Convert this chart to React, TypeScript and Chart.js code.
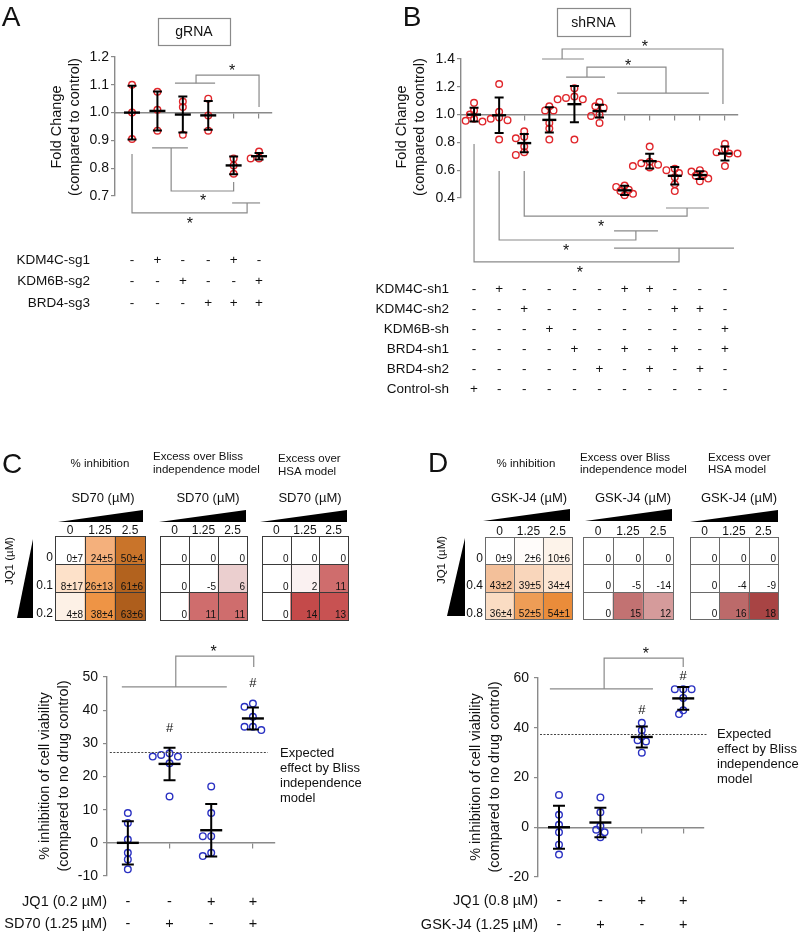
import React, { useEffect, useRef } from "react";
import { Chart, registerables } from "chart.js";
Chart.register(...registerables);

const PAGE_W = 805;
const PAGE_H = 935;
const FONT = "'Liberation Sans', Arial, Helvetica, sans-serif";
const AXIS_GRAY = "#8a8a8a";
const TEXT = "#111111";
const RED = "#e0262b";
const BLUE = "#2a31c2";
Chart.defaults.font.family = FONT;

// ---------------- Panel A (gRNA) ----------------
const A_VALUES = [
  [1.1, 1.0, 0.905],
  [1.075, 1.01, 0.935],
  [1.04, 1.02, 0.92],
  [1.05, 0.99, 0.935],
  [0.835, 0.81, 0.78],
  [0.86, 0.835, 0.835],
];
const A_MEANS = [1.0, 1.006, 0.993, 0.99, 0.81, 0.843];
const A_SDS = [0.097, 0.07, 0.065, 0.052, 0.032, 0.012];
const A_TABLE_LABELS = ["KDM4C-sg1", "KDM6B-sg2", "BRD4-sg3"];
const A_TABLE_ROWS = [
  ["-", "+", "-", "-", "+", "-"],
  ["-", "-", "+", "-", "-", "+"],
  ["-", "-", "-", "+", "+", "+"],
];
const A_BRACKETS = [
  [[2.69, 1.106], [4.27, 1.106]],
  [[3.52, 1.106], [3.52, 1.135], [6.0, 1.135], [6.0, 1.02]],
  [[1.79, 0.873], [3.2, 0.873]],
  [[2.54, 0.873], [2.54, 0.718], [5.0, 0.718], [5.0, 0.75]],
  [[1.0, 0.851], [1.0, 0.639], [5.53, 0.639], [5.53, 0.675]],
  [[4.94, 0.675], [6.04, 0.675]],
];
const A_STARS = [[4.94, 1.164], [3.8, 0.696], [3.28, 0.614]];

// ---------------- Panel B (shRNA) ----------------
const B_VALUES = [
  [1.085, 1.03, 1.0, 0.97, 0.95, 0.955],
  [1.22, 1.02, 0.98, 0.97, 0.96, 0.82],
  [0.88, 0.84, 0.83, 0.77, 0.73, 0.71],
  [1.06, 1.03, 1.03, 0.94, 0.9, 0.82],
  [1.19, 1.13, 1.12, 1.11, 1.11, 0.82],
  [1.09, 1.06, 1.05, 1.0, 0.99, 0.94],
  [0.49, 0.48, 0.46, 0.45, 0.43, 0.42],
  [0.77, 0.66, 0.65, 0.64, 0.63, 0.62],
  [0.61, 0.6, 0.58, 0.55, 0.5, 0.45],
  [0.6, 0.59, 0.57, 0.56, 0.54, 0.52],
  [0.79, 0.75, 0.73, 0.72, 0.72, 0.63],
];
const B_MEANS = [1.0, 0.995, 0.795, 0.962, 1.075, 1.025, 0.455, 0.665, 0.56, 0.565, 0.72];
const B_SDS = [0.05, 0.128, 0.065, 0.09, 0.13, 0.045, 0.033, 0.053, 0.063, 0.028, 0.05];
const B_TABLE_LABELS = ["KDM4C-sh1", "KDM4C-sh2", "KDM6B-sh", "BRD4-sh1", "BRD4-sh2", "Control-sh"];
const B_TABLE_ROWS = [
  ["-", "+", "-", "-", "-", "-", "+", "+", "-", "-", "-"],
  ["-", "-", "+", "-", "-", "-", "-", "-", "+", "+", "-"],
  ["-", "-", "-", "+", "-", "-", "-", "-", "-", "-", "+"],
  ["-", "-", "-", "-", "+", "-", "+", "-", "+", "-", "+"],
  ["-", "-", "-", "-", "-", "+", "-", "+", "-", "+", "-"],
  ["+", "-", "-", "-", "-", "-", "-", "-", "-", "-", "-"],
];
const B_BRACKETS = [
  [[3.71, 1.4], [5.38, 1.4]],
  [[4.51, 1.4], [4.51, 1.472], [10.92, 1.472], [10.92, 1.076]],
  [[4.67, 1.27], [6.22, 1.27]],
  [[5.5, 1.27], [5.5, 1.342], [8.65, 1.342], [8.65, 1.155]],
  [[6.7, 1.155], [10.36, 1.155]],
  [[3.0, 0.594], [3.0, 0.27], [9.49, 0.27], [9.49, 0.328]],
  [[8.65, 0.328], [10.36, 0.328]],
  [[2.0, 0.594], [2.0, 0.098], [7.45, 0.098], [7.45, 0.163]],
  [[6.58, 0.163], [8.33, 0.163]],
  [[1.0, 0.788], [1.0, -0.06], [9.17, -0.06], [9.17, 0.04]],
  [[6.58, 0.04], [11.36, 0.04]],
];
const B_STARS = [[7.81, 1.515], [7.14, 1.378], [6.06, 0.22], [4.67, 0.047], [5.22, -0.111]];

// ---------------- Panel C ----------------
const C_DOSE_LABELS = ["0", "1.25", "2.5"];
const C_JQ1_DOSES = ["0", "0.1", "0.2"];
const C_INHIBITION = [
  [0, 24, 50],
  [8, 26, 61],
  [4, 38, 63],
];
const C_INHIBITION_SD = [
  [7, 5, 4],
  [17, 13, 6],
  [8, 4, 6],
];
const C_BLISS = [
  [0, 0, 0],
  [0, -5, 6],
  [0, 11, 11],
];
const C_HSA = [
  [0, 0, 0],
  [0, 2, 11],
  [0, 14, 13],
];
const C_VALUES = [
  [9, 6, 1, -3, -5, -8],
  [27, 26.5, 26, 26, 24, 14],
  [17, 9, 2, 2, -3, -4],
  [42, 41, 38, 35, 35, 34],
];
const C_MEANS = [0, 23.8, 3.8, 37.5];
const C_SDS = [6.5, 4.9, 7.9, 3.3];
const C_EXPECTED = 27.4;
const C_TABLE_LABELS = ["JQ1 (0.2 µM)", "SD70 (1.25 µM)"];
const C_TABLE_ROWS = [
  ["-", "-", "+", "+"],
  ["-", "+", "-", "+"],
];
const C_BRACKETS = [
  [[0.856, 47], [3.374, 47]],
  [[2.15, 47], [2.15, 56.3], [4.02, 56.3], [4.02, 53.0]],
];
const C_STARS = [[3.06, 58.7]];
const C_HASHES = [[2, 34.9], [4, 48.5]];

// ---------------- Panel D ----------------
const D_DOSE_LABELS = ["0", "1.25", "2.5"];
const D_JQ1_DOSES = ["0", "0.4", "0.8"];
const D_INHIBITION = [
  [0, 2, 10],
  [43, 39, 34],
  [36, 52, 54],
];
const D_INHIBITION_SD = [
  [9, 6, 6],
  [2, 5, 4],
  [4, 5, 1],
];
const D_BLISS = [
  [0, 0, 0],
  [0, -5, -14],
  [0, 15, 12],
];
const D_HSA = [
  [0, 0, 0],
  [0, -4, -9],
  [0, 16, 18],
];
const D_VALUES = [
  [13, 5, 1, -2, -7, -11],
  [12, 6, 0.5, -1, -2, -4],
  [42, 39, 36.5, 35, 34.5, 30],
  [55.5, 55.5, 55.5, 52, 47, 45.5],
];
const D_MEANS = [0, 1.9, 36.3, 51.8];
const D_SDS = [8.6, 5.9, 4.2, 4.6];
const D_EXPECTED = 37.6;
const D_TABLE_LABELS = ["JQ1 (0.8 µM)", "GSK-J4 (1.25 µM)"];
const D_TABLE_ROWS = [
  ["-", "-", "+", "+"],
  ["-", "+", "-", "+"],
];
const D_BRACKETS = [
  [[0.78, 55.6], [3.27, 55.6]],
  [[2.09, 55.6], [2.09, 68.0], [4.0, 68.0], [4.0, 64.4]],
];
const D_STARS = [[3.1, 71.3]];
const D_HASHES = [[3, 47.5], [4, 61.2]];
const EXPECTED_LINES = ["Expected", "effect by Bliss", "independence", "model"];

// ---------------- colour scales (style) ----------------
const C_INH_STOPS = [[0, "#ffffff"], [4, "#fdf1e6"], [8, "#fde1c9"], [24, "#f4b07c"], [26, "#f2a462"], [38, "#ee9445"], [50, "#c9742a"], [61, "#b2621e"], [63, "#ae5e1c"]];
const D_INH_STOPS = [[0, "#ffffff"], [2, "#fffcfa"], [10, "#fdf3ea"], [34, "#fce6d4"], [36, "#fadcc3"], [39, "#f9d6bb"], [43, "#f3c09a"], [52, "#ee9d56"], [54, "#ea8c3a"]];
const C_EXC_STOPS = [[0, "#ffffff"], [2, "#faf1f1"], [6, "#ebcfcf"], [11, "#cf6d6d"], [13, "#c85252"], [14, "#c44a4a"]];
const D_EXC_STOPS = [[0, "#ffffff"], [12, "#d59b9b"], [15, "#c27272"], [16, "#bc6a6a"], [18, "#a84444"]];

function hexToRgb(h: string) {
  const n = parseInt(h.slice(1), 16);
  return [(n >> 16) & 255, (n >> 8) & 255, n & 255];
}
function colorFor(v: number, stops: any[]) {
  if (v <= stops[0][0]) return stops[0][1];
  for (let i = 1; i < stops.length; i++) {
    if (v <= stops[i][0]) {
      const t = (v - stops[i - 1][0]) / (stops[i][0] - stops[i - 1][0]);
      const a = hexToRgb(stops[i - 1][1]);
      const b = hexToRgb(stops[i][1]);
      const c = a.map((x, k) => Math.round(x + (b[k] - x) * t));
      return `rgb(${c[0]},${c[1]},${c[2]})`;
    }
  }
  return stops[stops.length - 1][1];
}

// ---------------- drawing helpers ----------------
function drawText(ctx: any, text: string, x: number, y: number, size: number, opts: any = {}) {
  ctx.save();
  ctx.font = `${opts.weight || "normal"} ${size}px ${FONT}`;
  ctx.fillStyle = opts.color || TEXT;
  ctx.textAlign = opts.align || "center";
  ctx.textBaseline = opts.baseline || "middle";
  if (opts.rotate) {
    ctx.translate(x, y);
    ctx.rotate(opts.rotate);
    ctx.fillText(text, 0, 0);
  } else {
    ctx.fillText(text, x, y);
  }
  ctx.restore();
}
function drawPolyline(ctx: any, pts: number[][], color: string, width: number) {
  ctx.save();
  ctx.strokeStyle = color;
  ctx.lineWidth = width;
  ctx.beginPath();
  pts.forEach((p, i) => (i ? ctx.lineTo(p[0], p[1]) : ctx.moveTo(p[0], p[1])));
  ctx.stroke();
  ctx.restore();
}
function drawPolygon(ctx: any, pts: number[][], color: string) {
  ctx.save();
  ctx.fillStyle = color;
  ctx.beginPath();
  pts.forEach((p, i) => (i ? ctx.lineTo(p[0], p[1]) : ctx.moveTo(p[0], p[1])));
  ctx.closePath();
  ctx.fill();
  ctx.restore();
}
function drawGlyph(ctx: any, g: string, x: number, yCenter: number, size: number, centerEm: number) {
  drawText(ctx, g, x, yCenter + centerEm * size, size, { baseline: "alphabetic" });
}
function drawBrackets(chart: any, brackets: number[][][], stars: number[][], hashes: number[][] = []) {
  const { ctx, scales } = chart;
  const xs = scales.x;
  const ys = scales.y;
  brackets.forEach((b) =>
    drawPolyline(ctx, b.map(([c, v]) => [xs.getPixelForValue(c), ys.getPixelForValue(v)]), AXIS_GRAY, 1.2)
  );
  stars.forEach(([c, v]) => drawGlyph(ctx, "*", xs.getPixelForValue(c), ys.getPixelForValue(v), 16, 0.58));
  hashes.forEach(([c, v]) => drawGlyph(ctx, "#", xs.getPixelForValue(c), ys.getPixelForValue(v), 13, 0.36));
}
function drawTable(chart: any, labels: string[], rows: string[][], labelRight: number, rowYs: number[], size: number) {
  const { ctx, scales } = chart;
  rows.forEach((row, r) => {
    drawText(ctx, labels[r], labelRight, rowYs[r], size, { align: "right" });
    row.forEach((sym, i) => drawText(ctx, sym, scales.x.getPixelForValue(i + 1), rowYs[r], size));
  });
}
function drawBox(ctx: any, x0: number, y0: number, x1: number, y1: number, label: string) {
  ctx.save();
  ctx.strokeStyle = AXIS_GRAY;
  ctx.lineWidth = 1.2;
  ctx.strokeRect(x0 + 0.5, y0 + 0.5, x1 - x0, y1 - y0);
  ctx.restore();
  drawText(ctx, label, (x0 + x1) / 2, (y0 + y1) / 2 + 1, 14);
}
function drawExpected(chart: any, value: number, c0: number, c1: number, textX: number) {
  const { ctx, scales } = chart;
  const y = scales.y.getPixelForValue(value);
  ctx.save();
  ctx.strokeStyle = "#444";
  ctx.lineWidth = 1;
  ctx.setLineDash([2, 1.5]);
  ctx.beginPath();
  ctx.moveTo(scales.x.getPixelForValue(c0), Math.round(y) + 0.5);
  ctx.lineTo(scales.x.getPixelForValue(c1), Math.round(y) + 0.5);
  ctx.stroke();
  ctx.restore();
  EXPECTED_LINES.forEach((t, i) => drawText(ctx, t, textX, y + 1 + i * 15, 13, { align: "left" }));
}

// beeswarm offsets (pixels): markers may overlap a little, as in the source
function swarmOffsets(vals: number[], pxPerY: number, minDist: number, step: number) {
  const order = vals.map((_, i) => i).sort((a, b) => vals[b] - vals[a]);
  const placed: any[] = [];
  const offs = new Array(vals.length).fill(0);
  for (const i of order) {
    const y = vals[i] * pxPerY;
    for (let k = 0; k < 20; k++) {
      const o = k === 0 ? 0 : (k % 2 ? -1 : 1) * Math.ceil(k / 2) * step;
      if (placed.every((p) => Math.hypot(p.x - o, p.y - y) >= minDist)) {
        offs[i] = o;
        placed.push({ x: o, y });
        break;
      }
    }
  }
  return offs;
}

// ---------------- scatter (dot plot) charts ----------------
const Y_AXIS_W = 40;
function scatterConfig(s: any) {
  const pxX = (s.area.right - s.area.left) / (s.xMax - s.xMin);
  const pxY = (s.area.bottom - s.area.top) / (s.yMax - s.yMin);
  const pts: any[] = [];
  s.values.forEach((vals: number[], i: number) => {
    const offs = swarmOffsets(vals, pxY, 5.5, 4.2);
    vals.forEach((v, j) => pts.push({ x: i + 1 + offs[j] / pxX, y: v }));
  });
  return {
    type: "scatter",
    data: {
      datasets: [
        {
          data: pts,
          pointStyle: "circle",
          pointRadius: 3.3,
          pointBorderWidth: 1.4,
          pointBorderColor: s.color,
          pointBackgroundColor: "rgba(255,255,255,0)",
          showLine: false,
          clip: false,
        },
      ],
    },
    options: {
      responsive: false,
      animation: false,
      devicePixelRatio: 1,
      events: [],
      layout: {
        padding: {
          left: s.area.left - Y_AXIS_W,
          right: PAGE_W - s.area.right,
          top: s.area.top,
          bottom: PAGE_H - s.area.bottom,
        },
      },
      plugins: { legend: { display: false }, tooltip: { enabled: false } },
      scales: {
        x: {
          type: "linear",
          min: s.xMin,
          max: s.xMax,
          position: { y: s.baseline },
          afterBuildTicks: (sc: any) => {
            sc.ticks = s.values.map((_: any, i: number) => ({ value: i + 1 }));
          },
          ticks: { display: false },
          grid: { drawOnChartArea: false, drawTicks: true, tickLength: 5, color: AXIS_GRAY, lineWidth: 1.2 },
          border: { display: true, color: AXIS_GRAY, width: 1.4 },
        },
        y: {
          type: "linear",
          position: "left",
          min: s.yMin,
          max: s.yMax,
          afterFit: (sc: any) => {
            sc.width = Y_AXIS_W;
          },
          ticks: {
            stepSize: s.yStep,
            color: TEXT,
            padding: s.tickPad,
            font: { family: FONT, size: 14 },
            callback: (v: any) => Number(v).toFixed(s.yDecimals),
          },
          grid: { drawOnChartArea: false, drawTicks: true, tickLength: 4, color: AXIS_GRAY, lineWidth: 1.2 },
          border: { display: true, color: AXIS_GRAY, width: 1.4 },
        },
      },
    },
    plugins: [
      {
        id: "meanSd",
        afterDatasetsDraw(chart: any) {
          const { ctx, scales } = chart;
          ctx.save();
          ctx.strokeStyle = "#000";
          ctx.lineWidth = 2;
          s.means.forEach((m: number, i: number) => {
            const px = scales.x.getPixelForValue(i + 1);
            const yt = scales.y.getPixelForValue(m + s.sds[i]);
            const yb = scales.y.getPixelForValue(m - s.sds[i]);
            const ym = scales.y.getPixelForValue(m);
            ctx.beginPath();
            ctx.moveTo(px, yt);
            ctx.lineTo(px, yb);
            ctx.moveTo(px - s.capHalf, yt);
            ctx.lineTo(px + s.capHalf, yt);
            ctx.moveTo(px - s.capHalf, yb);
            ctx.lineTo(px + s.capHalf, yb);
            ctx.stroke();
            ctx.lineWidth = 2.4;
            ctx.beginPath();
            ctx.moveTo(px - s.meanHalf, ym);
            ctx.lineTo(px + s.meanHalf, ym);
            ctx.stroke();
            ctx.lineWidth = 2;
          });
          ctx.restore();
        },
      },
      {
        id: "decor",
        afterDraw(chart: any) {
          s.decor(chart);
        },
      },
    ],
  };
}

const PANEL_A = {
  area: { left: 115, right: 272, top: 57, bottom: 196 },
  xMin: 0.33, xMax: 6.51, yMin: 0.7, yMax: 1.2, yStep: 0.1, yDecimals: 1, baseline: 1.0, tickPad: 2,
  values: A_VALUES, means: A_MEANS, sds: A_SDS, color: RED, meanHalf: 8, capHalf: 4.5,
  decor(chart: any) {
    const ctx = chart.ctx;
    drawText(ctx, "A", 11, 18, 28);
    drawBox(ctx, 158, 18, 230, 45, "gRNA");
    drawText(ctx, "Fold Change", 57, 127, 14.5, { rotate: -Math.PI / 2 });
    drawText(ctx, "(compared to control)", 75, 127, 14.5, { rotate: -Math.PI / 2 });
    drawBrackets(chart, A_BRACKETS, A_STARS);
    drawTable(chart, A_TABLE_LABELS, A_TABLE_ROWS, 90, [260, 281, 303], 13.5);
  },
};

const PANEL_B = {
  area: { left: 461, right: 738, top: 59, bottom: 198 },
  xMin: 0.48, xMax: 11.52, yMin: 0.4, yMax: 1.4, yStep: 0.2, yDecimals: 1, baseline: 1.0, tickPad: 2,
  values: B_VALUES, means: B_MEANS, sds: B_SDS, color: RED, meanHalf: 7, capHalf: 4.5,
  decor(chart: any) {
    const ctx = chart.ctx;
    drawText(ctx, "B", 412, 18, 28);
    drawBox(ctx, 557, 8, 630, 36, "shRNA");
    drawText(ctx, "Fold Change", 402, 127, 14.5, { rotate: -Math.PI / 2 });
    drawText(ctx, "(compared to control)", 420, 127, 14.5, { rotate: -Math.PI / 2 });
    drawBrackets(chart, B_BRACKETS, B_STARS);
    drawTable(chart, B_TABLE_LABELS, B_TABLE_ROWS, 449, [289, 309, 329, 349, 369, 389], 13.5);
  },
};

const PANEL_C = {
  area: { left: 107, right: 275, top: 677, bottom: 876 },
  xMin: 0.5, xMax: 4.53, yMin: -10, yMax: 50, yStep: 10, yDecimals: 0, baseline: 0, tickPad: 5,
  values: C_VALUES, means: C_MEANS, sds: C_SDS, color: BLUE, meanHalf: 11, capHalf: 6,
  decor(chart: any) {
    const ctx = chart.ctx;
    drawText(ctx, "% inhibition of cell viability", 45, 776, 14.5, { rotate: -Math.PI / 2 });
    drawText(ctx, "(compared to no drug control)", 64, 776, 14.5, { rotate: -Math.PI / 2 });
    drawExpected(chart, C_EXPECTED, 0.568, 4.357, 280);
    drawBrackets(chart, C_BRACKETS, C_STARS, C_HASHES);
    drawTable(chart, C_TABLE_LABELS, C_TABLE_ROWS, 107, [902, 924], 14.5);
  },
};

const PANEL_D = {
  area: { left: 538, right: 704, top: 678, bottom: 877 },
  xMin: 0.493, xMax: 4.502, yMin: -20, yMax: 60, yStep: 20, yDecimals: 0, baseline: 0, tickPad: 5,
  values: D_VALUES, means: D_MEANS, sds: D_SDS, color: BLUE, meanHalf: 11, capHalf: 6,
  decor(chart: any) {
    const ctx = chart.ctx;
    drawText(ctx, "% inhibition of cell viability", 476, 777, 14.5, { rotate: -Math.PI / 2 });
    drawText(ctx, "(compared to no drug control)", 495, 777, 14.5, { rotate: -Math.PI / 2 });
    drawExpected(chart, D_EXPECTED, 0.541, 4.575, 717);
    drawBrackets(chart, D_BRACKETS, D_STARS, D_HASHES);
    drawTable(chart, D_TABLE_LABELS, D_TABLE_ROWS, 538, [901, 925], 14.5);
  },
};

// ---------------- heatmap charts ----------------
const X_AXIS_H = 16;
const ROW_AXIS_W = 24;
function heatConfig(h: any) {
  const yw = h.rowLabels ? ROW_AXIS_W : 0;
  return {
    type: "bar",
    data: {
      labels: h.colLabels,
      datasets: h.values.map((row: number[], r: number) => ({
        data: row.map(() => [r - 0.5, r + 0.5]),
        backgroundColor: row.map((v) => colorFor(v, h.stops)),
        borderWidth: 0,
        barPercentage: 1,
        categoryPercentage: 1,
        grouped: false,
      })),
    },
    options: {
      responsive: false,
      animation: false,
      devicePixelRatio: 1,
      events: [],
      layout: {
        padding: {
          left: h.rect.left - yw,
          right: PAGE_W - h.rect.right,
          top: h.rect.top - X_AXIS_H,
          bottom: PAGE_H - h.rect.bottom,
        },
      },
      plugins: { legend: { display: false }, tooltip: { enabled: false } },
      scales: {
        x: {
          type: "category",
          position: "top",
          offset: true,
          afterFit: (sc: any) => {
            sc.height = X_AXIS_H;
          },
          grid: { display: false, drawTicks: false },
          border: { display: false },
          ticks: { color: TEXT, font: { family: FONT, size: 12 }, padding: -2, maxRotation: 0, autoSkip: false },
        },
        y: {
          type: "linear",
          min: -0.5,
          max: 2.5,
          reverse: true,
          display: !!h.rowLabels,
          afterFit: (sc: any) => {
            sc.width = yw;
          },
          afterBuildTicks: (sc: any) => {
            sc.ticks = [0, 1, 2].map((v) => ({ value: v }));
          },
          ticks: {
            color: TEXT,
            font: { family: FONT, size: 12 },
            padding: 2,
            labelOffset: 8,
            callback: (v: any) => (h.rowLabels ? h.rowLabels[v] : ""),
          },
          grid: { display: false, drawTicks: false },
          border: { display: false },
        },
      },
    },
    plugins: [
      {
        id: "cells",
        afterDatasetsDraw(chart: any) {
          const { ctx, chartArea, scales } = chart;
          const colEdges = [0, 1, 2, 3].map((i) => chartArea.left + ((chartArea.right - chartArea.left) * i) / 3);
          const rowEdges = [0, 1, 2, 3].map((i) => scales.y.getPixelForValue(i - 0.5));
          ctx.save();
          ctx.strokeStyle = h.grid;
          ctx.lineWidth = 1;
          ctx.beginPath();
          colEdges.forEach((x) => {
            const xx = Math.round(x) + 0.5;
            ctx.moveTo(xx, rowEdges[0]);
            ctx.lineTo(xx, rowEdges[3]);
          });
          rowEdges.forEach((y) => {
            const yy = Math.round(y) + 0.5;
            ctx.moveTo(colEdges[0], yy);
            ctx.lineTo(colEdges[3] + 1, yy);
          });
          ctx.stroke();
          ctx.restore();
          h.values.forEach((row: number[], r: number) =>
            row.forEach((v: number, c: number) => {
              const t = h.sds ? `${v}±${h.sds[r][c]}` : `${v}`;
              drawText(ctx, t, colEdges[c + 1] - 2, rowEdges[r + 1] - 2.5, 10, { align: "right", baseline: "alphabetic" });
            })
          );
        },
      },
      {
        id: "heatDecor",
        afterDraw(chart: any) {
          const ctx = chart.ctx;
          h.title.forEach((t: string, i: number) => drawText(ctx, t, h.titleX, h.titleYs[i], 11.5, { align: h.titleAlign }));
          drawText(ctx, h.drug, h.drugX, 498, 13);
          drawPolygon(ctx, [[h.wedge[0], h.wedgeY[1]], [h.wedge[1], h.wedgeY[0]], [h.wedge[1], h.wedgeY[1]]], "#000");
          if (h.extra) h.extra(ctx);
        },
      },
    ],
  };
}

const HEATMAPS = [
  {
    rect: { left: 55, right: 145, top: 536, bottom: 620 }, colLabels: C_DOSE_LABELS, rowLabels: C_JQ1_DOSES,
    values: C_INHIBITION, sds: C_INHIBITION_SD, stops: C_INH_STOPS, grid: "#3a3a3a",
    title: ["% inhibition"], titleX: 100, titleYs: [464], titleAlign: "center",
    drug: "SD70 (µM)", drugX: 103, wedge: [58, 143], wedgeY: [510, 522],
    extra(ctx: any) {
      drawText(ctx, "C", 12, 465, 28);
      drawText(ctx, "JQ1 (µM)", 10, 561, 11.5, { rotate: -Math.PI / 2 });
      drawPolygon(ctx, [[33, 539], [33, 618], [17, 618]], "#000");
    },
  },
  {
    rect: { left: 160, right: 247, top: 536, bottom: 620 }, colLabels: C_DOSE_LABELS, rowLabels: null,
    values: C_BLISS, sds: null, stops: C_EXC_STOPS, grid: "#3a3a3a",
    title: ["Excess over Bliss", "independence model"], titleX: 153, titleYs: [457, 470], titleAlign: "left",
    drug: "SD70 (µM)", drugX: 208, wedge: [159, 246], wedgeY: [510, 522],
  },
  {
    rect: { left: 262, right: 348, top: 536, bottom: 620 }, colLabels: C_DOSE_LABELS, rowLabels: null,
    values: C_HSA, sds: null, stops: C_EXC_STOPS, grid: "#3a3a3a",
    title: ["Excess over", "HSA model"], titleX: 278, titleYs: [459, 472], titleAlign: "left",
    drug: "SD70 (µM)", drugX: 310, wedge: [260, 347], wedgeY: [510, 522],
  },
  {
    rect: { left: 485, right: 572, top: 537, bottom: 619 }, colLabels: D_DOSE_LABELS, rowLabels: D_JQ1_DOSES,
    values: D_INHIBITION, sds: D_INHIBITION_SD, stops: D_INH_STOPS, grid: "#6a6a6a",
    title: ["% inhibition"], titleX: 526, titleYs: [464], titleAlign: "center",
    drug: "GSK-J4 (µM)", drugX: 529, wedge: [483, 570], wedgeY: [509, 521],
    extra(ctx: any) {
      drawText(ctx, "D", 438, 464, 28);
      drawText(ctx, "JQ1 (µM)", 442, 560, 11.5, { rotate: -Math.PI / 2 });
      drawPolygon(ctx, [[465, 538], [465, 616], [447, 616]], "#000");
    },
  },
  {
    rect: { left: 583, right: 673, top: 537, bottom: 619 }, colLabels: D_DOSE_LABELS, rowLabels: null,
    values: D_BLISS, sds: null, stops: D_EXC_STOPS, grid: "#6a6a6a",
    title: ["Excess over Bliss", "independence model"], titleX: 580, titleYs: [458, 470], titleAlign: "left",
    drug: "GSK-J4 (µM)", drugX: 633, wedge: [585, 672], wedgeY: [509, 521],
  },
  {
    rect: { left: 690, right: 778, top: 537, bottom: 619 }, colLabels: D_DOSE_LABELS, rowLabels: null,
    values: D_HSA, sds: null, stops: D_EXC_STOPS, grid: "#6a6a6a",
    title: ["Excess over", "HSA model"], titleX: 708, titleYs: [458, 470], titleAlign: "left",
    drug: "GSK-J4 (µM)", drugX: 739, wedge: [690, 778], wedgeY: [510, 522],
  },
];

function ChartCanvas({ build }: { build: () => any }) {
  const ref = useRef<HTMLCanvasElement | null>(null);
  useEffect(() => {
    const chart = new Chart(ref.current as any, build());
    return () => chart.destroy();
  }, []);
  return (
    <canvas
      ref={ref}
      width={PAGE_W}
      height={PAGE_H}
      style={{ position: "absolute", left: 0, top: 0, width: PAGE_W, height: PAGE_H }}
    />
  );
}

export default function App() {
  return (
    <div
      style={{
        position: "absolute",
        left: 0,
        top: 0,
        width: PAGE_W,
        height: PAGE_H,
        background: "#ffffff",
        overflow: "hidden",
      }}
    >
      <ChartCanvas build={() => scatterConfig(PANEL_A)} />
      <ChartCanvas build={() => scatterConfig(PANEL_B)} />
      <ChartCanvas build={() => scatterConfig(PANEL_C)} />
      <ChartCanvas build={() => scatterConfig(PANEL_D)} />
      {HEATMAPS.map((h, i) => (
        <ChartCanvas key={i} build={() => heatConfig(h)} />
      ))}
    </div>
  );
}
